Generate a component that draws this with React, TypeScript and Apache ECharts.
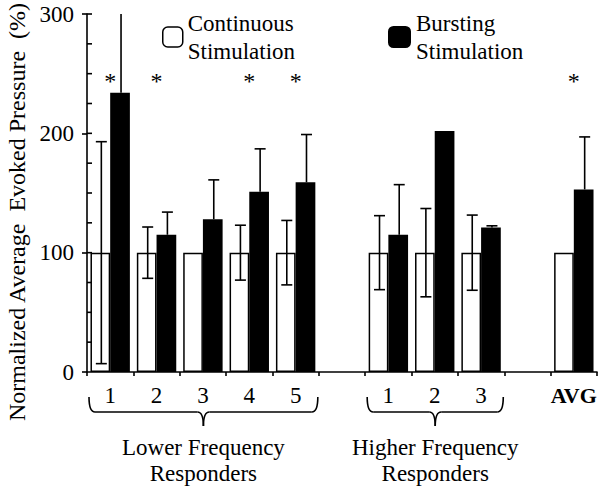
import React, { useEffect, useRef } from "react";
import * as echarts from "echarts";

const categories = ["1", "2", "3", "4", "5", "", "1", "2", "3", "", "AVG"];
const continuous = [100, 100, 100, 100, 100, null, 100, 100, 100, null, 100];
const continuousErr = [93, 21.5, 0, 23, 27, null, 31, 37, 31.5, null, 0];
const bursting = [234, 115, 128, 151, 159, null, 115, 202, 121, null, 153];
const burstingErr = [90, 19, 33, 36, 40, null, 42, 0, 1.5, null, 44];
const significance = ["*", "*", "", "*", "*", "", "", "", "", "", "*"];
const sigLevel = 244;
const yTicks = [0, 100, 200, 300];
const yInnerTicks = [25, 50, 75, 100, 125, 150, 175, 200, 225, 250, 275, 300];
const groups = [
  { label: "Lower Frequency\nResponders", from: 0, to: 4 },
  { label: "Higher Frequency\nResponders", from: 6, to: 8 },
];
const yName = "Normalized Average  Evoked Pressure  (%)";

const FONT = "Liberation Serif";
const CAT_GAP = 0.15;

function errRenderer(sign: number, twoSided: boolean) {
  return (params: any, api: any) => {
    const x = api.value(0);
    const lo = api.value(1);
    const hi = api.value(2);
    const band = api.size([1, 0])[0];
    const bw = (band * (1 - CAT_GAP)) / 2;
    const p1 = api.coord([x, lo]);
    const p2 = api.coord([x, hi]);
    const cx = p1[0] + (sign * bw) / 2 + 1;
    const cap = 5.5;
    const style = { stroke: "#000", lineWidth: 1.6 };
    const children: any[] = [
      { type: "line", shape: { x1: cx, y1: p1[1], x2: cx, y2: p2[1] }, style },
      { type: "line", shape: { x1: cx - cap, y1: p2[1], x2: cx + cap, y2: p2[1] }, style },
    ];
    if (twoSided) {
      children.push({ type: "line", shape: { x1: cx - cap, y1: p1[1], x2: cx + cap, y2: p1[1] }, style });
    }
    return { type: "group", children };
  };
}

export default function App() {
  const ref = useRef<HTMLDivElement>(null);
  useEffect(() => {
    if (!ref.current) return;
    const chart = echarts.init(ref.current, null, { renderer: "svg" });

    const contErrData: any[] = [];
    continuous.forEach((v, i) => {
      const e = continuousErr[i];
      if (v != null && e) contErrData.push([i, v - e, v + e]);
    });
    const burstErrData: any[] = [];
    bursting.forEach((v, i) => {
      const e = burstingErr[i];
      if (v != null && e) burstErrData.push([i, v, v + e]);
    });
    const sigData: any[] = [];
    significance.forEach((s, i) => {
      if (s) sigData.push({ value: [i, sigLevel], name: s });
    });

    const legendText = {
      fontSize: 23,
      lineHeight: 28,
      fontFamily: FONT,
      color: "#000",
    };

    chart.setOption({
      animation: false,
      backgroundColor: "#fff",
      textStyle: { fontFamily: FONT },
      grid: { left: 87, right: 4, top: 14, bottom: 114, containLabel: false },
      legend: [
        {
          data: ["Continuous Stimulation"],
          left: 162,
          top: 9,
          padding: 0,
          itemWidth: 20,
          itemHeight: 20,
          itemGap: 0,
          selectedMode: false,
          formatter: (n: string) => n.replace(" ", "\n"),
          textStyle: legendText,
          itemStyle: { color: "#fff", borderColor: "#000", borderWidth: 1.5 },
        },
        {
          data: ["Bursting Stimulation"],
          left: 388,
          top: 9,
          padding: 0,
          itemWidth: 23,
          itemHeight: 22,
          itemGap: 0,
          selectedMode: false,
          formatter: (n: string) => n.replace(" ", "\n"),
          textStyle: legendText,
          itemStyle: { color: "#000", borderWidth: 0 },
        },
      ],
      xAxis: {
        type: "category",
        data: categories,
        boundaryGap: true,
        axisLine: { lineStyle: { color: "#000", width: 1.6 } },
        axisTick: { show: true, length: 4, interval: 0, lineStyle: { color: "#000", width: 1.6 } },
        axisLabel: {
          interval: 0,
          margin: 12,
          fontSize: 23,
          fontFamily: FONT,
          color: "#000",
          formatter: (v: string) => (v === "AVG" ? "{b|AVG}" : v),
          rich: { b: { fontSize: 22, fontWeight: "bold", fontFamily: FONT, color: "#000" } },
        },
      },
      yAxis: {
        type: "value",
        min: yTicks[0],
        max: yTicks[yTicks.length - 1],
        interval: 100,
        splitLine: { show: false },
        axisLine: { show: true, lineStyle: { color: "#000", width: 1.6 } },
        axisTick: { show: true, length: 5, lineStyle: { color: "#000", width: 1.6 } },
        axisLabel: { margin: 13, fontSize: 23, fontFamily: FONT, color: "#000" },
      },
      series: [
        {
          name: "Continuous Stimulation",
          type: "bar",
          data: continuous,
          barGap: "0%",
          barCategoryGap: CAT_GAP * 100 + "%",
          itemStyle: { color: "#fff", borderColor: "#000", borderWidth: 1.5 },
        },
        {
          name: "Bursting Stimulation",
          type: "bar",
          data: bursting,
          barGap: "0%",
          barCategoryGap: CAT_GAP * 100 + "%",
          itemStyle: { color: "#000" },
        },
        {
          type: "custom",
          renderItem: errRenderer(-1, true),
          data: contErrData,
          clip: true,
          z: 5,
          silent: true,
        },
        {
          type: "custom",
          renderItem: errRenderer(1, false),
          data: burstErrData,
          clip: true,
          z: 5,
          silent: true,
        },
        {
          type: "scatter",
          data: sigData,
          symbol: "circle",
          symbolSize: 0,
          itemStyle: { opacity: 0 },
          silent: true,
          label: {
            show: true,
            position: "inside",
            formatter: "{b}",
            fontSize: 24,
            fontFamily: FONT,
            color: "#000",
            opacity: 1,
            textBorderWidth: 0,
          },
        },
      ],
    });

    const px = (i: number) => chart.convertToPixel({ xAxisIndex: 0 }, i) as number;
    const py = (v: number) => chart.convertToPixel({ yAxisIndex: 0 }, v) as number;
    const band = px(1) - px(0);
    const axisY = py(0);
    const axisX = px(0) - band / 2;
    const lw = 1.6;
    const elements: any[] = [];
    yInnerTicks.forEach((v) => {
      const y = py(v);
      elements.push({
        type: "line",
        z: 100,
        shape: { x1: axisX, y1: y, x2: axisX + 5, y2: y },
        style: { stroke: "#000", lineWidth: lw },
      });
    });
    groups.forEach((g) => {
      const L = px(g.from) - band / 2 + 2;
      const R = px(g.to) + band / 2 - 1;
      const M = (L + R) / 2;
      const T = axisY + 25;
      const H = axisY + 40;
      const B = axisY + 54;
      const st = { stroke: "#000", lineWidth: lw, fill: "none" };
      elements.push(
        { type: "bezierCurve", shape: { x1: L, y1: T, x2: L + 6, y2: H, cpx1: L, cpy1: H }, style: st },
        { type: "line", shape: { x1: L + 6, y1: H, x2: M - 6, y2: H }, style: st },
        { type: "bezierCurve", shape: { x1: M - 6, y1: H, x2: M, y2: B, cpx1: M, cpy1: H }, style: st },
        { type: "bezierCurve", shape: { x1: R, y1: T, x2: R - 6, y2: H, cpx1: R, cpy1: H }, style: st },
        { type: "line", shape: { x1: R - 6, y1: H, x2: M + 6, y2: H }, style: st },
        { type: "bezierCurve", shape: { x1: M + 6, y1: H, x2: M, y2: B, cpx1: M, cpy1: H }, style: st },
        {
          type: "text",
          x: M,
          y: axisY + 88,
          style: {
            text: g.label,
            fontSize: 23,
            lineHeight: 26,
            fontFamily: FONT,
            fill: "#000",
            align: "center",
            verticalAlign: "middle",
          },
        }
      );
    });
    elements.push({
      type: "text",
      x: 17,
      y: 212,
      rotation: Math.PI / 2,
      style: {
        text: yName,
        fontSize: 24,
        fontFamily: FONT,
        fill: "#000",
        align: "center",
        verticalAlign: "middle",
      },
    });
    chart.setOption({ graphic: elements });

    return () => chart.dispose();
  }, []);

  return (
    <div
      ref={ref}
      style={{ position: "fixed", left: 0, top: 0, width: 601, height: 486 }}
    />
  );
}
